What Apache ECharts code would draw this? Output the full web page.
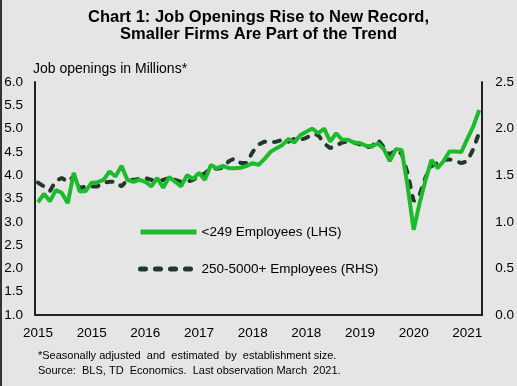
<!DOCTYPE html>
<html>
<head>
<meta charset="utf-8">
<script src="https://cdn.jsdelivr.net/npm/echarts@6/dist/echarts.min.js"></script>
<style>
html,body{margin:0;padding:0;background:#e5e5e5;}
#wrap{position:relative;width:517px;height:386px;}
#c{position:absolute;left:0;top:0;width:517px;height:386px;}
#edge{position:absolute;left:0;top:0;width:2px;height:386px;background:#333;pointer-events:none;}
</style>
</head>
<body>
<div id="wrap"><div id="c"></div><div id="edge"></div></div>
<script>
// Monthly categories Jan 2015 – Mar 2021
var months = [
 "2015-01","2015-02","2015-03","2015-04","2015-05","2015-06","2015-07","2015-08","2015-09","2015-10","2015-11","2015-12",
 "2016-01","2016-02","2016-03","2016-04","2016-05","2016-06","2016-07","2016-08","2016-09","2016-10","2016-11","2016-12",
 "2017-01","2017-02","2017-03","2017-04","2017-05","2017-06","2017-07","2017-08","2017-09","2017-10","2017-11","2017-12",
 "2018-01","2018-02","2018-03","2018-04","2018-05","2018-06","2018-07","2018-08","2018-09","2018-10","2018-11","2018-12",
 "2019-01","2019-02","2019-03","2019-04","2019-05","2019-06","2019-07","2019-08","2019-09","2019-10","2019-11","2019-12",
 "2020-01","2020-02","2020-03","2020-04","2020-05","2020-06","2020-07","2020-08","2020-09","2020-10","2020-11","2020-12",
 "2021-01","2021-02","2021-03"
];
// <249 Employees (LHS), millions
var smallFirms = [
 3.42,3.60,3.44,3.68,3.62,3.40,4.05,3.65,3.66,3.84,3.85,3.90,
 4.08,3.97,4.20,3.90,3.86,3.90,3.86,3.76,3.94,3.73,3.96,3.86,
 3.76,4.00,3.92,4.05,3.90,4.22,4.15,4.20,4.15,4.15,4.16,4.20,
 4.26,4.22,4.35,4.50,4.58,4.65,4.78,4.70,4.86,4.93,5.00,4.90,
 5.00,4.72,4.90,4.76,4.76,4.70,4.69,4.63,4.62,4.68,4.56,4.30,
 4.56,4.54,3.75,2.83,3.40,3.90,4.33,4.15,4.30,4.51,4.51,4.50,
 4.78,5.05,5.40
];
// 250-5000+ Employees (RHS), millions
var largeFirms = [
 1.42,1.38,1.33,1.44,1.47,1.43,1.49,1.36,1.38,1.38,1.38,1.42,
 1.43,1.43,1.38,1.45,1.45,1.46,1.47,1.45,1.42,1.45,1.47,1.45,
 1.43,1.43,1.45,1.49,1.52,1.58,1.57,1.58,1.65,1.68,1.63,1.63,
 1.75,1.83,1.86,1.85,1.86,1.88,1.86,1.89,1.88,1.90,1.94,1.93,
 1.84,1.79,1.82,1.85,1.86,1.85,1.83,1.80,1.81,1.88,1.80,1.72,
 1.77,1.73,1.52,1.22,1.29,1.48,1.60,1.63,1.66,1.67,1.65,1.63,
 1.65,1.78,1.96
];
var seriesNames = ["<249 Employees (LHS)", "250-5000+ Employees (RHS)"];
var leftTicks = {min: 1.0, max: 6.0, interval: 0.5};
var rightTicks = {min: 0.0, max: 2.5, interval: 0.5};

var FONT = "Liberation Sans";
var chart = echarts.init(document.getElementById('c'), null, {renderer: 'canvas'});
chart.setOption({
  backgroundColor: '#e5e5e5',
  animation: false,
  textStyle: {fontFamily: FONT, color: '#000'},
  title: [{
    text: 'Chart 1: Job Openings Rise to New Record,\nSmaller Firms Are Part of the Trend',
    left: 'center', top: 9, padding: 0,
    textStyle: {fontFamily: FONT, fontSize: 16.5, fontWeight: 'bold', lineHeight: 17, color: '#000'}
  }, {
    text: 'Job openings in Millions*',
    left: 33, top: 62, padding: 0,
    textStyle: {fontFamily: FONT, fontSize: 14, fontWeight: 'normal', color: '#000'}
  }, {
    text: '*Seasonally adjusted  and  estimated  by  establishment size.\nSource:  BLS, TD  Economics.  Last observation March  2021.',
    left: 38, top: 348, padding: 0,
    textStyle: {fontFamily: FONT, fontSize: 11, fontWeight: 'normal', lineHeight: 15, color: '#000'}
  }],
  legend: {
    orient: 'vertical',
    left: 133, top: 220,
    itemWidth: 56, itemHeight: 14, itemGap: 23,
    itemStyle: {opacity: 0},
    lineStyle: {width: 5},
    textStyle: {fontFamily: FONT, fontSize: 13.5, color: '#000'},
    data: [
      {name: seriesNames[0]},
      {name: seriesNames[1], lineStyle: {width: 5, type: [5, 10], cap: 'round'}}
    ]
  },
  grid: {left: 35, right: 34, top: 82, bottom: 71, containLabel: false},
  xAxis: {
    type: 'category',
    data: months,
    boundaryGap: true,
    axisLine: {show: true, lineStyle: {color: '#222', width: 2}},
    axisTick: {show: false},
    axisLabel: {
      interval: 8, margin: 11,
      fontFamily: FONT, fontSize: 13.5, color: '#000',
      formatter: function (v) { return v.slice(0, 4); }
    },
    splitLine: {show: false}
  },
  yAxis: [{
    type: 'value',
    min: leftTicks.min, max: leftTicks.max, interval: leftTicks.interval,
    axisLine: {show: true, lineStyle: {color: '#222', width: 2}},
    axisTick: {show: false},
    splitLine: {show: false},
    axisLabel: {margin: 12, fontFamily: FONT, fontSize: 13.5, color: '#000',
      formatter: function (v) { return v.toFixed(1); }}
  }, {
    type: 'value', position: 'right',
    min: rightTicks.min, max: rightTicks.max, interval: rightTicks.interval,
    axisLine: {show: true, lineStyle: {color: '#222', width: 2}},
    axisTick: {show: false},
    splitLine: {show: false},
    axisLabel: {margin: 13, fontFamily: FONT, fontSize: 13.5, color: '#000',
      formatter: function (v) { return v.toFixed(1); }}
  }],
  series: [{
    name: seriesNames[1],
    type: 'line', yAxisIndex: 1,
    data: largeFirms,
    symbol: 'none', showSymbol: false,
    lineStyle: {color: '#1f3a29', width: 4, type: [6, 9], cap: 'round'},
    itemStyle: {color: '#1f3a29'},
    z: 2
  }, {
    name: seriesNames[0],
    type: 'line', yAxisIndex: 0,
    data: smallFirms,
    symbol: 'none', showSymbol: false,
    lineStyle: {color: '#1dbb2c', width: 4},
    itemStyle: {color: '#1dbb2c'},
    z: 3
  }]
});
</script>
</body>
</html>
